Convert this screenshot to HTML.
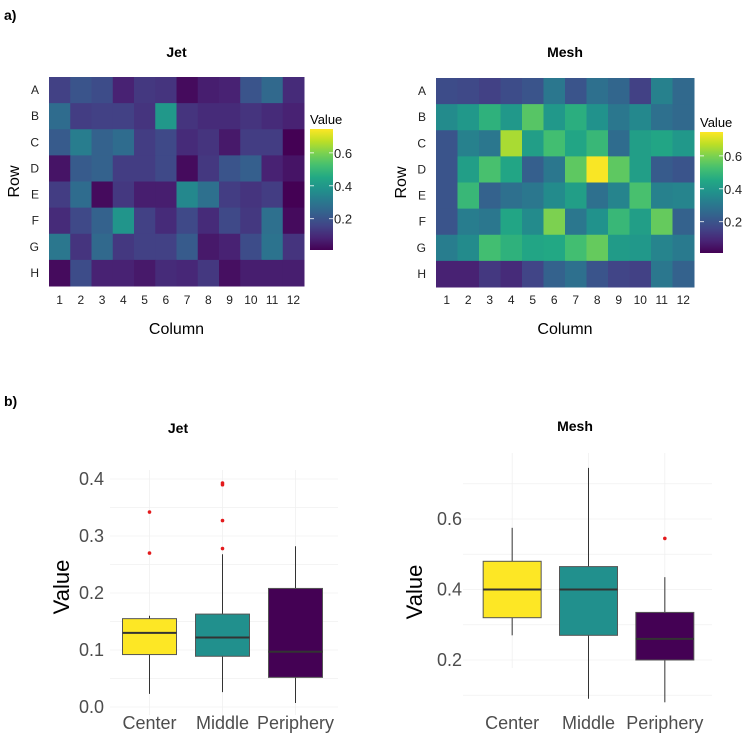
<!DOCTYPE html>
<html><head><meta charset="utf-8">
<style>
html,body{margin:0;padding:0;background:#fff;}
svg{display:block;font-family:"Liberation Sans",sans-serif;}
</style></head>
<body>
<svg id="chart" width="747" height="735" viewBox="0 0 747 735" xmlns="http://www.w3.org/2000/svg">
<text x="4" y="20" font-size="14" font-weight="bold">a)</text>
<text x="4" y="406" font-size="14" font-weight="bold">b)</text>
<g id="hm"></g>
<g id="bx"></g>
</svg>
<script>
const rows = ["A","B","C","D","E","F","G","H"];
const cols = ["1","2","3","4","5","6","7","8","9","10","11","12"];
const jetValues = [
[0.15,0.2,0.18,0.08,0.13,0.12,0.03,0.07,0.08,0.2,0.26,0.1],
[0.27,0.14,0.15,0.15,0.12,0.4,0.12,0.1,0.1,0.12,0.1,0.08],
[0.22,0.32,0.24,0.27,0.14,0.17,0.1,0.12,0.06,0.14,0.14,0.01],
[0.05,0.22,0.24,0.14,0.14,0.17,0.03,0.13,0.2,0.23,0.08,0.05],
[0.14,0.27,0.03,0.13,0.07,0.07,0.35,0.28,0.14,0.12,0.14,0.01],
[0.1,0.17,0.24,0.39,0.15,0.1,0.17,0.1,0.17,0.13,0.28,0.03],
[0.3,0.12,0.26,0.13,0.15,0.15,0.22,0.06,0.08,0.18,0.29,0.12],
[0.03,0.18,0.08,0.08,0.06,0.1,0.09,0.13,0.04,0.07,0.07,0.07]];
const meshValues = [
[0.18,0.17,0.15,0.18,0.2,0.3,0.2,0.28,0.25,0.15,0.33,0.26],
[0.36,0.4,0.48,0.4,0.55,0.4,0.47,0.38,0.3,0.35,0.28,0.26],
[0.2,0.33,0.3,0.65,0.42,0.52,0.44,0.5,0.27,0.42,0.44,0.4],
[0.2,0.42,0.53,0.44,0.23,0.3,0.56,0.74,0.56,0.42,0.22,0.2],
[0.2,0.5,0.24,0.28,0.3,0.36,0.42,0.28,0.34,0.53,0.33,0.34],
[0.2,0.32,0.3,0.44,0.36,0.6,0.3,0.38,0.5,0.42,0.57,0.24],
[0.32,0.36,0.52,0.48,0.44,0.45,0.52,0.57,0.41,0.4,0.34,0.31],
[0.08,0.08,0.13,0.1,0.16,0.24,0.28,0.2,0.16,0.15,0.3,0.24]];
const legendTicks = [0.2,0.4,0.6];
const groups = ["Center","Middle","Periphery"];
const jetMin=[0.023,0.026,0.007], jetQ1=[0.092,0.089,0.052], jetMed=[0.13,0.122,0.097], jetQ3=[0.155,0.163,0.208], jetMax=[0.16,0.268,0.282];
const jetOutliers=[[0.342,0.27],[0.39,0.393,0.327,0.278],[]];
const jetTicks=[0.0,0.1,0.2,0.3,0.4];
const meshMin=[0.27,0.09,0.08], meshQ1=[0.32,0.27,0.2], meshMed=[0.40,0.40,0.26], meshQ3=[0.48,0.465,0.335], meshMax=[0.575,0.745,0.435];
const meshOutliers=[[],[],[0.545]];
const meshTicks=[0.2,0.4,0.6];

const NS="http://www.w3.org/2000/svg";
function mk(tag,attrs,parent){const e=document.createElementNS(NS,tag);for(const k in attrs)e.setAttribute(k,attrs[k]);parent.appendChild(e);return e;}
const vir=["#440154","#482475","#414487","#355f8d","#2a788e","#21918c","#22a884","#44bf70","#7ad151","#bddf26","#fde725"];
function hx(c){return [1,3,5].map(i=>parseInt(c.substr(i,2),16));}
function viridis(t){t=Math.max(0,Math.min(1,t));const p=t*10,i=Math.min(9,Math.floor(p)),f=p-i;const a=hx(vir[i]),b=hx(vir[i+1]);return "rgb("+a.map((v,k)=>Math.round(v+(b[k]-v)*f)).join(",")+")";}
const vmin=0.01,vmax=0.745;

function heatmap(g,vals,x0,x1,y0,y1,title,lx,ly0,ly1,name){
  const cw=(x1-x0)/cols.length, ch=(y1-y0)/rows.length;
  const t=mk("text",{x:(x0+x1)/2,y:57,"font-size":14,"font-weight":"bold","text-anchor":"middle"},g);t.textContent=title;
  
  
  rows.forEach((r,i)=>{
    const lt=mk("text",{x:x0-10,y:y0+ch*(i+0.5)+4,"font-size":12,"text-anchor":"end",fill:"#222"},g);lt.textContent=r;
    
    
    cols.forEach((c,j)=>{
      const v=vals[i][j];
      const re=mk("rect",{x:x0+j*cw,y:y0+i*ch,width:cw+0.5,height:ch+0.5,fill:viridis((v-vmin)/(vmax-vmin))},g);
      
      
    });
  });
  cols.forEach((c,j)=>{
    const ct=mk("text",{x:x0+cw*(j+0.5),y:304,"font-size":12,"text-anchor":"middle",fill:"#222"},g);ct.textContent=c;
    
    
  });
  const xt=mk("text",{x:(x0+x1)/2,y:334,"font-size":16,"text-anchor":"middle"},g);xt.textContent="Column";
  
  
  const yt=mk("text",{x:0,y:0,"font-size":16,"text-anchor":"middle",transform:`translate(${x0-30},${(y0+y1)/2}) rotate(-90)`},g);yt.textContent="Row";
  
  
  const gid="grad"+name;
  const defs=mk("defs",{},g);const lg=mk("linearGradient",{id:gid,x1:0,y1:1,x2:0,y2:0},defs);
  for(let k=0;k<=10;k++)mk("stop",{offset:k/10,"stop-color":vir[k]},lg);
  const bar=mk("rect",{x:lx,y:ly0,width:23,height:ly1-ly0,fill:`url(#${gid})`},g);
  
  
  const lt=mk("text",{x:lx,y:ly0-5,"font-size":13},g);lt.textContent="Value";
  
  
  legendTicks.forEach(v=>{
    const yy=ly1-(v-vmin)/(vmax-vmin)*(ly1-ly0);
    mk("line",{x1:lx,x2:lx+4,y1:yy,y2:yy,stroke:"#fff","stroke-width":0.8},g);
    mk("line",{x1:lx+19,x2:lx+23,y1:yy,y2:yy,stroke:"#fff","stroke-width":0.8},g);
    const tt=mk("text",{x:lx+24,y:yy+5,"font-size":13,fill:"#222"},g);tt.textContent=v.toFixed(1);
    
    
  });
}
const hm=document.getElementById("hm");
const g1=mk("g",{},hm);
heatmap(g1,jetValues,49,304,77,286,"Jet",310,129,250,"jet");
const g2=mk("g",{},hm);
heatmap(g2,meshValues,436,694,78,287,"Mesh",700,132,253,"mesh");

function boxplot(g,p){
  const sy=v=>p.y0-(v-p.vlo)/(p.vhi-p.vlo)*(p.y0-p.y1);
  const bw=(p.px1-p.px0)/3;
  const cx=i=>p.px0+bw*(i+0.5);
  const t=mk("text",{x:p.titleX,y:p.titleY,"font-size":14,"font-weight":"bold","text-anchor":"middle"},g);t.textContent=p.title;
  
  
  for(let v=p.gridLo; v<=p.gridHi+1e-9; v+=p.gridStep/2){
    const yy=sy(v);
    mk("line",{x1:p.gx0,x2:p.gx1,y1:yy,y2:yy,stroke:"#f0f0f0","stroke-width":0.8},g);
  }
  groups.forEach((gr,i)=>mk("line",{x1:cx(i),x2:cx(i),y1:p.gy1,y2:p.y0+8,stroke:"#f0f0f0","stroke-width":0.8},g));
  p.ticks.forEach(v=>{
    const tt=mk("text",{x:p.labelX,y:sy(v)+6,"font-size":18,"text-anchor":"end",fill:"#4d4d4d"},g);tt.textContent=v.toFixed(1);
    
    
  });
  const fills=["#fde725","#21908d","#440154"];
  groups.forEach((gr,i)=>{
    const x=cx(i),w=p.boxW;
    const wl=mk("line",{x1:x,x2:x,y1:sy(p.mx[i]),y2:sy(p.mn[i]),stroke:"#333","stroke-width":1},g);
    
    
    const b=mk("rect",{x:x-w/2,y:sy(p.q3[i]),width:w,height:sy(p.q1[i])-sy(p.q3[i]),fill:fills[i],stroke:"#555","stroke-width":1},g);
    
    
    const m=mk("line",{x1:x-w/2,x2:x+w/2,y1:sy(p.md[i]),y2:sy(p.md[i]),stroke:"#333","stroke-width":2},g);
    
    
    p.out[i].forEach(v=>{
      const c=mk("circle",{cx:x,cy:sy(v),r:1.8,fill:"#e31a1c"},g);
      
      
    });
    const xl=mk("text",{x:x,y:729,"font-size":18,"text-anchor":"middle",fill:"#4d4d4d"},g);xl.textContent=gr;
    
    
  });
  const yt=mk("text",{x:0,y:0,"font-size":22,"text-anchor":"middle",transform:`translate(${p.yTitleX},${p.yTitleY}) rotate(-90)`},g);yt.textContent="Value";
  
  
}
const bx=document.getElementById("bx");
const b1=mk("g",{},bx);
boxplot(b1,{name:"jet",title:"Jet",titleX:178,titleY:433,px0:113,px1:332,gx0:110,gx1:338,labelX:104,y0:707,y1:479,vlo:0,vhi:0.4,gridLo:0,gridHi:0.4,gridStep:0.1,gy1:470,ticks:jetTicks,boxW:54,
  mn:jetMin,q1:jetQ1,md:jetMed,q3:jetQ3,mx:jetMax,out:jetOutliers,yTitleX:69,yTitleY:587});
const b2=mk("g",{},bx);
boxplot(b2,{name:"mesh",title:"Mesh",titleX:575,titleY:431,px0:474,px1:703,gx0:463,gx1:712,labelX:462,y0:660,y1:519,vlo:0.2,vhi:0.6,gridLo:0.1,gridHi:0.7,gridStep:0.2,gy1:453,ticks:meshTicks,boxW:58,
  mn:meshMin,q1:meshQ1,md:meshMed,q3:meshQ3,mx:meshMax,out:meshOutliers,yTitleX:422,yTitleY:592});
</script>
</body></html>
